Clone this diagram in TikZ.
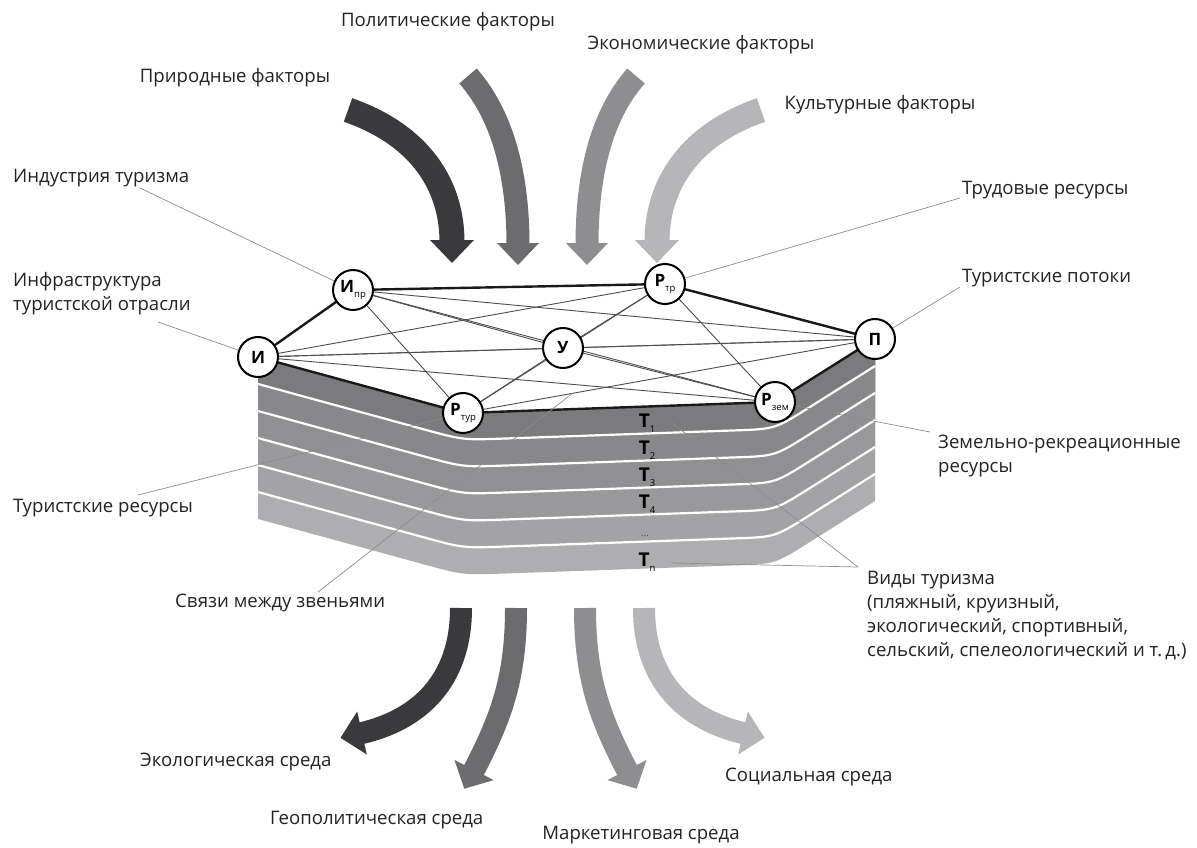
\documentclass[tikz,border=0pt]{standalone}
\usepackage{fontspec}
\setmainfont{Open Sans}
\usetikzlibrary{calc}
\newcommand{\lsub}[1]{\raisebox{-0.45ex}{\fontsize{9.5}{9.5}\selectfont\mdseries #1}}
\definecolor{arA}{HTML}{3A3A3C}
\definecolor{arB}{HTML}{6C6C6E}
\definecolor{arC}{HTML}{8E8E90}
\definecolor{arD}{HTML}{B6B6B8}
\definecolor{bandA}{HTML}{7B7B7D}
\definecolor{bandB}{HTML}{88888A}
\definecolor{bandC}{HTML}{909092}
\definecolor{bandD}{HTML}{99999B}
\definecolor{bandE}{HTML}{A3A3A5}
\definecolor{bandF}{HTML}{AEAEB0}
\definecolor{txt}{HTML}{222222}
\begin{document}
\begin{tikzpicture}[x=1pt,y=-1pt,
  lbl/.style={font=\fontsize{18.6}{24}\selectfont, text=txt, inner sep=0pt, anchor=west, align=left},
  nd/.style={circle, draw=black, line width=2pt, fill=white, minimum size=40pt, inner sep=0pt, font=\bfseries\fontsize{17}{17}\selectfont},
  tl/.style={font=\bfseries\fontsize{19}{19}\selectfont, text=black, inner sep=0pt},
  rim/.style={line width=2.4pt, draw=black!90},
  link/.style={line width=0.9pt, draw=black!70},
  lead/.style={line width=0.7pt, draw=black!45},
  shaft/.style={line cap=butt}
]
\useasboundingbox (0,0) rectangle (1197,848);

% ---------- slab ----------
\foreach \k/\c in {6/bandF,5/bandE,4/bandD,3/bandC,2/bandB,1/bandA}{
  \pgfmathsetmacro{\H}{27*\k}
  \fill[\c] (258,357) -- (463,413) -- (775,402) -- (875,339)
    -- (875,{339+\H}) -- (808.8,{380.7+\H}) .. controls (775,{402+\H}) .. (735,{403.4+\H})
    -- (503,{411.6+\H}) .. controls (463,{413+\H}) .. (424.4,{402.5+\H})
    -- (258,{357+\H}) -- cycle;
}
\foreach \k in {1,...,5}{
  \pgfmathsetmacro{\H}{27*\k}
  \draw[white, line width=2.2pt] (258,{357+\H}) -- (424.4,{402.5+\H}) .. controls (463,{413+\H}) .. (503,{411.6+\H})
    -- (735,{403.4+\H}) .. controls (775,{402+\H}) .. (808.8,{380.7+\H}) -- (875,{339+\H});
}

% ---------- top arrows ----------
\draw[shaft, arA, line width=25pt] (348,110) .. controls (420,135) and (452,185) .. (452,242);
\fill[arA] (430,240) -- (474,240) -- (452,263) -- cycle;
\draw[shaft, arB, line width=23pt] (468,76) .. controls (505,118) and (518,180) .. (518,245);
\fill[arB] (497,243) -- (539,243) -- (518,265) -- cycle;
\draw[shaft, arC, line width=23pt] (636,76) .. controls (599,118) and (587,180) .. (587,245);
\fill[arC] (566,243) -- (608,243) -- (587,265) -- cycle;
\draw[shaft, arD, line width=25pt] (761,110) .. controls (689,135) and (657,185) .. (657,242);
\fill[arD] (635,240) -- (679,240) -- (657,263) -- cycle;

% ---------- bottom arrows ----------
\draw[shaft, arA, line width=22pt] (461,608) .. controls (461,680) and (420,720) .. (360,733.5);
\fill[arA] (366.8,754.5) -- (357.2,711.5) -- (340.5,737.8) -- cycle;
\draw[shaft, arB, line width=22pt] (516,608) .. controls (516,680) and (500,720) .. (473,772);
\fill[arB] (493.6,780.1) -- (454.4,759.9) -- (464.3,788.7) -- cycle;
\draw[shaft, arC, line width=22pt] (585,608) .. controls (585,680) and (601,720) .. (628,772);
\fill[arC] (607.4,780.1) -- (646.6,759.9) -- (636.7,788.7) -- cycle;
\draw[shaft, arD, line width=22pt] (644,608) .. controls (644,680) and (685,720) .. (745,733.5);
\fill[arD] (738.2,754.5) -- (747.8,711.5) -- (764.5,737.8) -- cycle;

% ---------- nodes (positions) ----------
\coordinate (ci) at (258,357);
\coordinate (cipr) at (353,290);
\coordinate (crtr) at (665,284);
\coordinate (cu) at (563,348);
\coordinate (cp) at (875,339);
\coordinate (crtur) at (463,413);
\coordinate (crzem) at (775,402);

% links
\foreach \a/\b in {ci/crtr,ci/cu,ci/cp,ci/crzem,cipr/cu,cipr/cp,cipr/crtur,cipr/crzem,crtr/cu,crtr/crtur,crtr/crzem,cu/cp,cu/crtur,cu/crzem,cp/crtur}
  \draw[link] (\a) -- (\b);
% rim
\draw[rim] (ci) -- (cipr) -- (crtr) -- (cp) -- (crzem) -- (crtur) -- cycle;

% ---------- labels ----------
\node[lbl, anchor=center] (lpol) at (448,22) {Политические факторы};
\node[lbl, anchor=center] (leco) at (701,45) {Экономические факторы};
\node[lbl, anchor=center] (lpri) at (235,78) {Природные факторы};
\node[lbl, anchor=center] (lkul) at (880,105) {Культурные факторы};
\node[lbl] (lind) at (13,178) {Индустрия туризма};
\node[lbl] (linf) at (13,294) {Инфраструктура\\туристской отрасли};
\node[lbl] (ltrud) at (962,190) {Трудовые ресурсы};
\node[lbl] (ltp) at (962,278) {Туристские потоки};
\node[lbl] (lzem) at (938,456) {Земельно-рекреационные\\ресурсы};
\node[lbl] (ltr) at (13,508) {Туристские ресурсы};
\node[lbl] (lsv) at (175,603) {Связи между звеньями};
\node[lbl, anchor=north west] (lvid) at (867,571) {Виды туризма\\(пляжный, круизный,\\экологический, спортивный,\\сельский, спелеологический и т.\,д.)};
\node[lbl] (lekol) at (140,762) {Экологическая среда};
\node[lbl] (lgeo) at (270,820) {Геополитическая среда};
\node[lbl, anchor=center] (lmar) at (641,835) {Маркетинговая среда};
\node[lbl] (lsoc) at (725,777) {Социальная среда};

% T labels
\node[tl] (t1) at (647,423) {T\lsub{1}};
\node[tl] (t2) at (647,450) {T\lsub{2}};
\node[tl] (t3) at (647,477) {T\lsub{3}};
\node[tl] (t4) at (647,504) {T\lsub{4}};
\node[font=\fontsize{10}{10}\selectfont, text=black!70, inner sep=0pt] (tdots) at (645,536) {…};
\node[tl] (tn) at (647,562) {T\lsub{n}};

% leader coordinates
\coordinate (eind) at (140,188);
\coordinate (einf) at (158,322);
\coordinate (etrud) at (960,198);
\coordinate (etp) at (960,287);
\coordinate (ezem) at (930,432);
\coordinate (etr) at (138,495);
\coordinate (esv) at (318,592);
\coordinate (evid) at (858,567);
\coordinate (et1) at (672,423);
\coordinate (etn) at (672,563);
\coordinate (elink) at ($(crtur)!0.266!(cp)$);

% nodes
\node[nd] (ni) at (ci) {И};
\node[nd] (nipr) at (cipr) {И\lsub{пр}};
\node[nd] (nrtr) at (crtr) {Р\lsub{тр}};
\node[nd] (nu) at (cu) {У};
\node[nd] (np) at (cp) {П};
\node[nd] (nrtur) at (crtur) {Р\lsub{тур}};
\node[nd] (nrzem) at (crzem) {Р\lsub{зем}};

% leaders
\draw[lead] (eind) -- (nipr);
\draw[lead] (einf) -- (ni);
\draw[lead] (etrud) -- (nrtr);
\draw[lead] (etp) -- (np);
\draw[lead] (ezem) -- (nrzem);
\draw[lead] (etr) -- (nrtur);
\draw[lead] (esv) -- (elink);
\draw[lead] (evid) -- (et1);
\draw[lead] (evid) -- (etn);
\end{tikzpicture}
\end{document}
